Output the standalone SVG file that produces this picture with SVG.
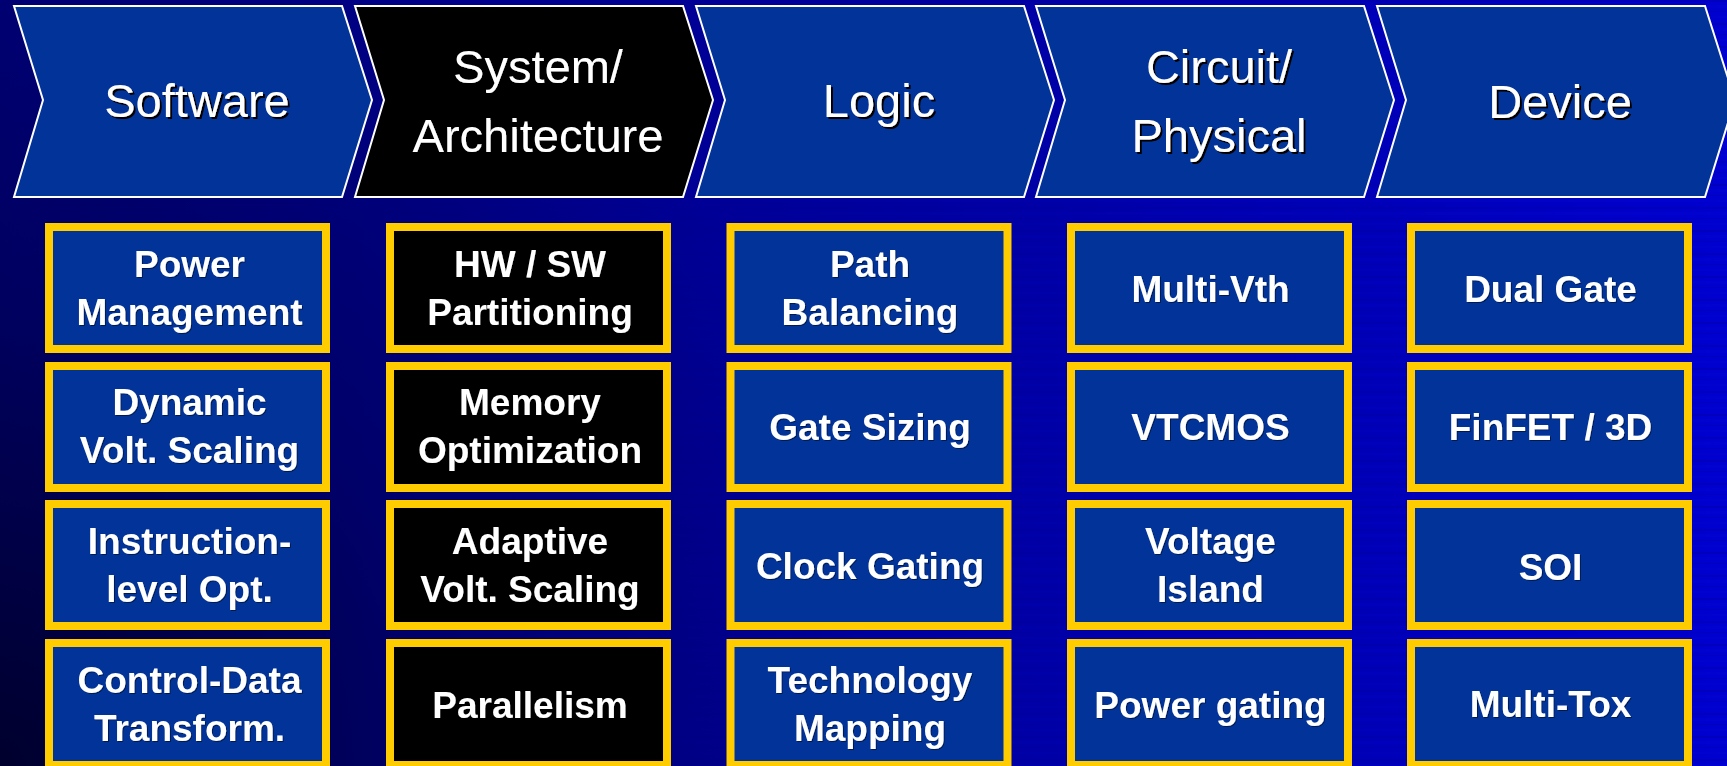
<svg xmlns="http://www.w3.org/2000/svg" width="1727" height="766" viewBox="0 0 1727 766">
  <defs>
    <linearGradient id="bgH" x1="0" y1="0" x2="1" y2="0">
      <stop offset="0" stop-color="#00007a"/>
      <stop offset="0.45" stop-color="#000099"/>
      <stop offset="0.8" stop-color="#0000b8"/>
      <stop offset="1" stop-color="#0000d0"/>
    </linearGradient>
    <radialGradient id="shade" cx="0" cy="766" r="900" gradientUnits="userSpaceOnUse">
      <stop offset="0" stop-color="#000020" stop-opacity="0.85"/>
      <stop offset="0.5" stop-color="#000020" stop-opacity="0.3"/>
      <stop offset="1" stop-color="#000020" stop-opacity="0"/>
    </radialGradient>
    <linearGradient id="streakFade" x1="0" y1="0" x2="1" y2="0">
      <stop offset="0.3" stop-color="#fff" stop-opacity="0"/>
      <stop offset="1" stop-color="#fff" stop-opacity="1"/>
    </linearGradient>
    <mask id="streakMask">
      <rect width="1727" height="766" fill="url(#streakFade)"/>
    </mask>
    <!-- faint horizontal banding of the backdrop -->
    <pattern id="streaks" width="1727" height="23" patternUnits="userSpaceOnUse">
      <rect y="0" width="1727" height="2" fill="#000070" opacity="0.18"/>
      <rect y="5" width="1727" height="3" fill="#1010e0" opacity="0.14"/>
      <rect y="11" width="1727" height="1" fill="#000070" opacity="0.16"/>
      <rect y="16" width="1727" height="2" fill="#1010e0" opacity="0.12"/>
    </pattern>
    <filter id="txtShadow" x="-5%" y="-20%" width="110%" height="140%">
      <feDropShadow dx="2" dy="2" stdDeviation="0.3" flood-color="#000" flood-opacity="1"/>
    </filter>
    <filter id="boxShadow" x="-5%" y="-20%" width="110%" height="140%">
      <feDropShadow dx="1" dy="1" stdDeviation="0.5" flood-color="#000" flood-opacity="0.5"/>
    </filter>
  </defs>
  <style>
    .chev { fill: #023399; stroke: #ffffff; stroke-width: 2; }
    .chev.dark { fill: #000000; }
    .chevText { font-family: "Liberation Sans", Arial, sans-serif; font-size: 47px; fill: #ffffff; text-anchor: middle; filter: url(#txtShadow); }
    .box { fill: #023399; stroke: #ffcc00; stroke-width: 8; }
    .box.dark { fill: #000000; }
    .boxText { font-family: "Liberation Sans", Arial, sans-serif; font-weight: bold; font-size: 37px; fill: #ffffff; text-anchor: middle; filter: url(#boxShadow); }
  </style>

  <!-- background -->
  <rect width="1727" height="766" fill="url(#bgH)"/>
  <rect width="1727" height="766" fill="url(#streaks)" mask="url(#streakMask)"/>
  <rect width="1727" height="766" fill="url(#shade)"/>

  <!-- abstraction levels -->
  <g id="stage-software">
    <polygon class="chev" points="14,6 342,6 372,100 342,197 14,197 43,100"/>
    <text class="chevText" x="197" y="117">Software</text>
  </g>
  <g id="stage-system">
    <polygon class="chev dark" points="355,6 683,6 713,100 683,197 355,197 384,100"/>
    <text class="chevText" x="538" y="83">System/</text>
    <text class="chevText" x="538" y="152">Architecture</text>
  </g>
  <g id="stage-logic">
    <polygon class="chev" points="696,6 1024,6 1054,100 1024,197 696,197 725,100"/>
    <text class="chevText" x="879" y="117">Logic</text>
  </g>
  <g id="stage-circuit">
    <polygon class="chev" points="1036,6 1364,6 1394,100 1364,197 1036,197 1065,100"/>
    <text class="chevText" x="1219" y="83">Circuit/</text>
    <text class="chevText" x="1219" y="152">Physical</text>
  </g>
  <g id="stage-device">
    <polygon class="chev" points="1377,6 1705,6 1735,100 1705,197 1377,197 1406,100"/>
    <text class="chevText" x="1560" y="118">Device</text>
  </g>

  <!-- Software techniques -->
  <g id="sw-power-management">
    <rect class="box" x="49" y="227" width="277" height="122"/>
    <text class="boxText" x="189.5" y="277">Power</text>
    <text class="boxText" x="189.5" y="325">Management</text>
  </g>
  <g id="sw-dvs">
    <rect class="box" x="49" y="366" width="277" height="122"/>
    <text class="boxText" x="189.5" y="415">Dynamic</text>
    <text class="boxText" x="189.5" y="463">Volt. Scaling</text>
  </g>
  <g id="sw-instruction-level">
    <rect class="box" x="49" y="504" width="277" height="122"/>
    <text class="boxText" x="189.5" y="554">Instruction-</text>
    <text class="boxText" x="189.5" y="602">level Opt.</text>
  </g>
  <g id="sw-control-data">
    <rect class="box" x="49" y="643" width="277" height="122"/>
    <text class="boxText" x="189.5" y="693">Control-Data</text>
    <text class="boxText" x="189.5" y="741">Transform.</text>
  </g>

  <!-- System / Architecture techniques -->
  <g id="sys-hw-sw">
    <rect class="box dark" x="390" y="227" width="277" height="122"/>
    <text class="boxText" x="530" y="277">HW / SW</text>
    <text class="boxText" x="530" y="325">Partitioning</text>
  </g>
  <g id="sys-memory">
    <rect class="box dark" x="390" y="366" width="277" height="122"/>
    <text class="boxText" x="530" y="415">Memory</text>
    <text class="boxText" x="530" y="463">Optimization</text>
  </g>
  <g id="sys-avs">
    <rect class="box dark" x="390" y="504" width="277" height="122"/>
    <text class="boxText" x="530" y="554">Adaptive</text>
    <text class="boxText" x="530" y="602">Volt. Scaling</text>
  </g>
  <g id="sys-parallelism">
    <rect class="box dark" x="390" y="643" width="277" height="122"/>
    <text class="boxText" x="530" y="718">Parallelism</text>
  </g>

  <!-- Logic techniques -->
  <g id="logic-path-balancing">
    <rect class="box" x="730.5" y="227" width="277" height="122"/>
    <text class="boxText" x="870" y="277">Path</text>
    <text class="boxText" x="870" y="325">Balancing</text>
  </g>
  <g id="logic-gate-sizing">
    <rect class="box" x="730.5" y="366" width="277" height="122"/>
    <text class="boxText" x="870" y="440">Gate Sizing</text>
  </g>
  <g id="logic-clock-gating">
    <rect class="box" x="730.5" y="504" width="277" height="122"/>
    <text class="boxText" x="870" y="579">Clock Gating</text>
  </g>
  <g id="logic-tech-mapping">
    <rect class="box" x="730.5" y="643" width="277" height="122"/>
    <text class="boxText" x="870" y="693">Technology</text>
    <text class="boxText" x="870" y="741">Mapping</text>
  </g>

  <!-- Circuit / Physical techniques -->
  <g id="circ-multi-vth">
    <rect class="box" x="1071" y="227" width="277" height="122"/>
    <text class="boxText" x="1210.5" y="302">Multi-Vth</text>
  </g>
  <g id="circ-vtcmos">
    <rect class="box" x="1071" y="366" width="277" height="122"/>
    <text class="boxText" x="1210.5" y="440">VTCMOS</text>
  </g>
  <g id="circ-voltage-island">
    <rect class="box" x="1071" y="504" width="277" height="122"/>
    <text class="boxText" x="1210.5" y="554">Voltage</text>
    <text class="boxText" x="1210.5" y="602">Island</text>
  </g>
  <g id="circ-power-gating">
    <rect class="box" x="1071" y="643" width="277" height="122"/>
    <text class="boxText" x="1210.5" y="718">Power gating</text>
  </g>

  <!-- Device techniques -->
  <g id="dev-dual-gate">
    <rect class="box" x="1411" y="227" width="277" height="122"/>
    <text class="boxText" x="1550.5" y="302">Dual Gate</text>
  </g>
  <g id="dev-finfet">
    <rect class="box" x="1411" y="366" width="277" height="122"/>
    <text class="boxText" x="1550.5" y="440">FinFET / 3D</text>
  </g>
  <g id="dev-soi">
    <rect class="box" x="1411" y="504" width="277" height="122"/>
    <text class="boxText" x="1550.5" y="580">SOI</text>
  </g>
  <g id="dev-multi-tox">
    <rect class="box" x="1411" y="643" width="277" height="122"/>
    <text class="boxText" x="1550.5" y="717">Multi-Tox</text>
  </g>
</svg>
